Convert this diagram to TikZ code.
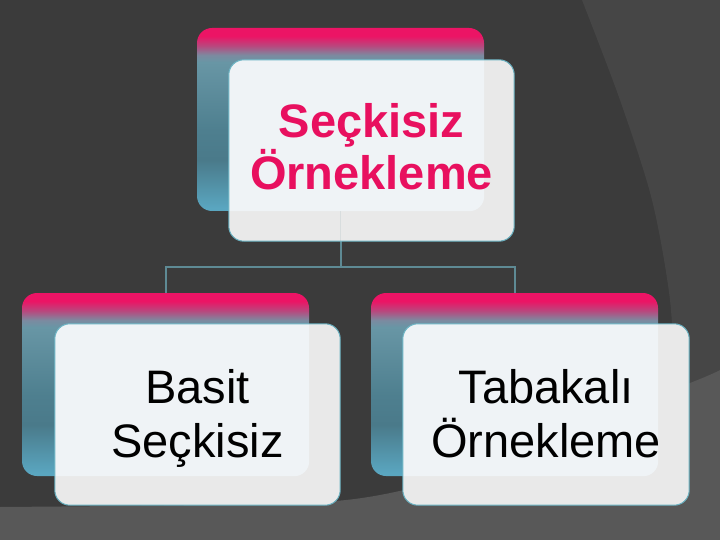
\documentclass[tikz,border=0pt]{standalone}
\usepackage{fontspec}
\setmainfont{Liberation Sans}
\definecolor{bgdark}{HTML}{3B3B3B}
\definecolor{bgmid}{HTML}{464646}
\definecolor{bglight}{HTML}{585858}
\definecolor{tB}{HTML}{5AA6C0}
\definecolor{tD}{HTML}{4A7A8A}
\definecolor{tM}{HTML}{4E7F8F}
\definecolor{tG}{HTML}{6896A5}
\definecolor{pV}{HTML}{7C8AA0}
\definecolor{pM}{HTML}{B8487E}
\definecolor{pk}{HTML}{EC1465}
\definecolor{frontfill}{HTML}{E9E9E9}
\definecolor{hlfill}{HTML}{EFF3F6}
\definecolor{frontline}{HTML}{6CB4C4}
\definecolor{connline}{HTML}{5E8A94}
\definecolor{titlepink}{HTML}{E8105F}
\pgfdeclareverticalshading{backshade}{100bp}{color(0bp)=(tB); color(25.8bp)=(tB); color(39bp)=(tD); color(47bp)=(tM); color(65.7bp)=(tG); color(67.6bp)=(pV); color(70.1bp)=(pM); color(72.8bp)=(pk); color(100bp)=(pk)}
\tikzset{
  backbox/.style={rectangle, rounded corners=15pt, inner sep=0pt, shading=backshade, minimum width=287pt, minimum height=183pt},
  frontbox/.style={rectangle, rounded corners=15pt, inner sep=0pt, fill=frontfill, minimum height=181pt},
  frontedge/.style={draw=frontline, line width=1pt, rounded corners=15pt},
  hlshape/.style={fill=hlfill, rounded corners=15pt},
  conn/.style={draw=connline, line width=2pt},
  toptext/.style={align=center, text=titlepink, font=\bfseries\fontsize{47}{52}\selectfont, inner sep=0pt},
  subtext/.style={align=center, text=black, font=\fontsize{47}{54}\selectfont, inner sep=0pt}
}
\begin{document}
\begin{tikzpicture}[x=1pt,y=-1pt]
\useasboundingbox (0,0) rectangle (720,540);
% background
\fill[bgdark] (0,0) rectangle (720,540);
\fill[bgmid] plot[smooth] coordinates {(582,0) (620,100) (652,200) (670,300) (675,392)} -- (720,370) -- (720,0) -- cycle;
\fill[bglight] plot[smooth] coordinates {(0,507) (200,505) (335,501) (404,490) (440,477) (560,432) (690,383) (720,370)} -- (720,540) -- (0,540) -- cycle;
% nodes
\node[backbox] (tb) at (340.5,119.5) {};
\node[backbox] (lb) at (165.5,384.5) {};
\node[backbox] (rb) at (514.5,384.5) {};
\coordinate (jn) at (340.5,267);
% connectors
\draw[conn] (tb.south) -- (tb.south |- jn);
\draw[conn] (lb.north) -- (lb.north |- jn) -- (rb.north |- jn) -- (rb.north);
% front boxes
\node[frontbox, minimum width=285pt] (tf) at (371.5,150.5) {};
\node[frontbox, minimum width=285pt] (lf) at (197.5,414.5) {};
\node[frontbox, minimum width=286pt] (rf) at (546,414.5) {};
\foreach \f/\b in {tf/tb, lf/lb, rf/rb}{
  \begin{scope}
    \clip[rounded corners=15pt] (\f.south west) rectangle (\f.north east);
    \fill[hlshape] (\b.south west) rectangle (\b.north east);
  \end{scope}
  \draw[frontedge] (\f.south west) rectangle (\f.north east);
}
\draw[connline, line width=1.5pt, opacity=0.12] (tb.south) -- (tb.south |- tf.south);
% texts
\node[toptext, anchor=base] (tt) at (371.5,190) {Seçkisiz\\Örnekleme};
\node[subtext, anchor=base] (lt) at (197.5,457) {Basit\\Seçkisiz};
\node[subtext, anchor=base] (rt) at (546,457) {Tabakalı\\Örnekleme};
\end{tikzpicture}
\end{document}
